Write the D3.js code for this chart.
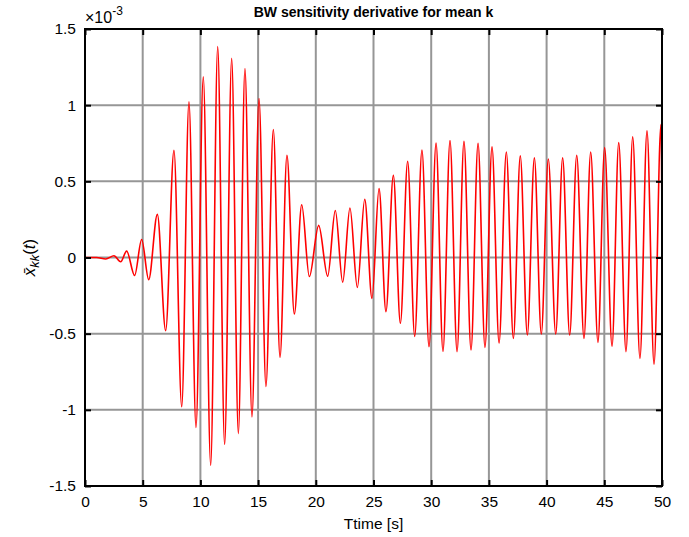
<!DOCTYPE html>
<html>
<head>
<meta charset="utf-8">
<script src="https://cdn.jsdelivr.net/npm/d3@7"></script>
<style>
  body { margin: 0; background: #fff; }
  svg { display: block; }
  text { font-family: "Liberation Sans", Arial, Helvetica, sans-serif; }
</style>
</head>
<body>
<svg id="chart" width="689" height="537"></svg>
<script>
// Extrema (time in s, value in units of 1e-3)
const times = [0, 1.0, 1.8, 2.51, 3.09, 3.61, 4.30, 4.91, 5.52, 6.27, 6.99, 7.71,
  8.38, 9.01, 9.62, 10.25, 10.89, 11.50, 12.10, 12.71, 13.29, 13.86, 14.47, 15.08,
  15.68, 16.32, 16.90, 17.50, 18.14, 18.78, 19.44, 20.25, 21.03, 21.69, 22.33, 22.96,
  23.60, 24.24, 24.87, 25.48, 26.08, 26.72, 27.33, 27.96, 28.57, 29.20, 29.81, 30.42,
  31.02, 31.63, 32.24, 32.84, 33.45, 34.06, 34.66, 35.27, 35.88, 36.51, 37.12, 37.72,
  38.33, 38.94, 39.54, 40.15, 40.79, 41.39, 42.00, 42.61, 43.24, 43.82, 44.45, 45.03,
  45.67, 46.25, 46.88, 47.46, 48.09, 48.70, 49.31, 49.91, 50.0];
const values = [0, 0, -0.010, 0.011, -0.028, 0.042, -0.118, 0.118, -0.145, 0.283, -0.480, 0.704,
  -0.980, 1.022, -1.116, 1.186, -1.364, 1.384, -1.228, 1.307, -1.156, 1.241, -1.046, 1.044,
  -0.846, 0.840, -0.656, 0.671, -0.371, 0.346, -0.125, 0.211, -0.123, 0.309, -0.162, 0.325,
  -0.197, 0.382, -0.268, 0.452, -0.355, 0.539, -0.432, 0.632, -0.518, 0.706, -0.586, 0.752,
  -0.616, 0.768, -0.618, 0.763, -0.607, 0.750, -0.590, 0.726, -0.561, 0.693, -0.531, 0.667,
  -0.509, 0.654, -0.502, 0.647, -0.502, 0.654, -0.509, 0.671, -0.531, 0.693, -0.557, 0.721,
  -0.583, 0.754, -0.618, 0.792, -0.662, 0.831, -0.700, 0.873, 0.254];
const xTicks = [0, 5, 10, 15, 20, 25, 30, 35, 40, 45, 50];
const yTicks = [-1.5, -1, -0.5, 0, 0.5, 1, 1.5];
const yTickLabels = ["-1.5", "-1", "-0.5", "0", "0.5", "1", "1.5"];

const svg = d3.select("#chart");
const L = 85, R = 662, T = 29, B = 486;
const x = d3.scaleLinear().domain([0, 50]).range([L, R]);
const y = d3.scaleLinear().domain([-1.5, 1.5]).range([B, T]);

// grid
const grid = svg.append("g");
grid.selectAll(".gx").data(xTicks.slice(1, -1)).enter().append("line")
  .attr("x1", d => x(d)).attr("x2", d => x(d)).attr("y1", T).attr("y2", B)
  .attr("stroke", "#969696").attr("stroke-width", 2);
grid.selectAll(".gy").data(yTicks.slice(1, -1)).enter().append("line")
  .attr("y1", d => y(d)).attr("y2", d => y(d)).attr("x1", L).attr("x2", R)
  .attr("stroke", "#969696").attr("stroke-width", 2);

// line
const data = times.map((t, i) => [t, values[i]]);
svg.append("path").datum(data)
  .attr("fill", "none").attr("stroke", "#ff0000").attr("stroke-width", 1.6)
  .attr("d", d3.line().x(d => x(d[0])).y(d => y(d[1])).curve(d3.curveMonotoneX));

// axes (ticks inward on all sides)
const tl = 6;
const xb = d3.axisBottom(x).tickValues(xTicks).tickSize(-tl).tickPadding(10).tickFormat(d3.format("d"));
const xt = d3.axisTop(x).tickValues(xTicks).tickSize(-tl).tickFormat("");
const yl = d3.axisLeft(y).tickValues(yTicks).tickSize(-tl).tickPadding(9).tickFormat((d, i) => yTickLabels[i]);
const yr = d3.axisRight(y).tickValues(yTicks).tickSize(-tl).tickFormat("");
function style(g) {
  g.select(".domain").remove();
  g.selectAll(".tick line").attr("stroke", "#000").attr("stroke-width", 2);
  g.selectAll(".tick text").attr("fill", "#000").attr("font-size", 15.5)
    .attr("font-family", '"Liberation Sans", Arial, sans-serif');
}
svg.append("g").attr("transform", `translate(0,${B})`).call(xb).call(style)
  .selectAll(".tick text").attr("dy", "0.71em");
svg.append("g").attr("transform", `translate(0,${T})`).call(xt).call(style);
svg.append("g").attr("transform", `translate(${L},0)`).call(yl).call(style);
svg.append("g").attr("transform", `translate(${R},0)`).call(yr).call(style);

// frame
svg.append("rect").attr("x", L).attr("y", T).attr("width", R - L).attr("height", B - T)
  .attr("fill", "none").attr("stroke", "#000").attr("stroke-width", 2);

// exponent
const ex = svg.append("text").attr("x", 85).attr("y", 23).attr("font-size", 16).attr("fill", "#000");
ex.append("tspan").text("×10");
ex.append("tspan").attr("dy", -8).attr("font-size", 12).text("-3");

// title
svg.append("text").attr("x", (L + R) / 2).attr("y", 17).attr("text-anchor", "middle")
  .attr("font-size", 14).attr("font-weight", "bold").text("BW sensitivity derivative for mean k");

// x label
svg.append("text").attr("x", (L + R) / 2).attr("y", 529).attr("text-anchor", "middle")
  .attr("font-size", 15.5).text("Ttime [s]");

// y label (math style)
const yg = svg.append("g").attr("transform", `translate(35,${(T + B) / 2}) rotate(-90)`);
const ylab = yg.append("text").attr("text-anchor", "middle")
  .attr("font-family", '"DejaVu Serif", "Liberation Serif", serif').attr("font-size", 17);
ylab.append("tspan").attr("font-style", "italic").text("x\u0304");
ylab.append("tspan").attr("font-style", "italic").attr("font-size", 13).attr("dy", 4).text("kk");
ylab.append("tspan").attr("dy", -4).text("(");
ylab.append("tspan").attr("font-style", "italic").text("t");
ylab.append("tspan").text(")");
</script>
</body>
</html>
